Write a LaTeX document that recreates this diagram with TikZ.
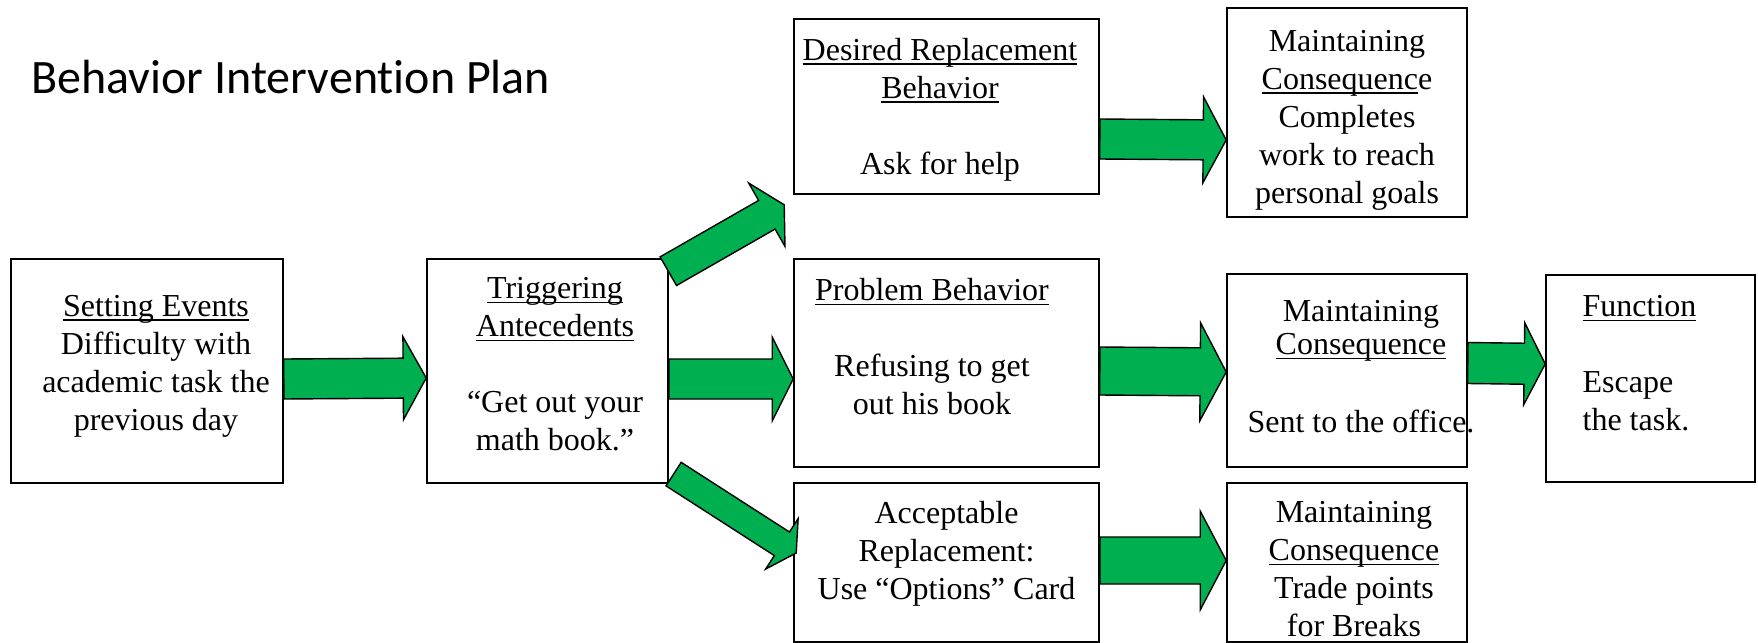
\documentclass[tikz,border=0pt]{standalone}
\usepackage{fontspec}
\setmainfont{Liberation Serif}
\newfontfamily\titlefont[Ligatures=NoCommon]{Carlito}
\usetikzlibrary{calc}
\definecolor{arrowgreen}{RGB}{0,176,80}

% underline close to the baseline
\newcommand\ulbase[1]{\setbox0\hbox{#1}\rlap{\rule[-2.2pt]{\wd0}{0.6pt}}\box0}

% block arrow: tail, tip, half shaft, half head, head length
\newcommand\blockarrow[5]{%
  \coordinate (t) at (#1);
  \coordinate (p) at (#2);
  \coordinate (hb) at ($(p)!#5!(t)$);
  \draw[greenarrow] ($(t)!#3!90:(p)$) -- ($(hb)!#3!-90:(t)$) -- ($(hb)!#4!-90:(t)$)
    -- (p) -- ($(hb)!#4!90:(t)$) -- ($(hb)!#3!90:(t)$) -- ($(t)!#3!-90:(p)$) -- cycle;
}

\begin{document}
\begin{tikzpicture}[x=0.5pt, y=-0.5pt,
    box/.style = {draw, line width=0.8pt, fill=white, inner sep=0pt},
    txt/.style = {font=\fontsize{16}{19}\selectfont, align=center, inner sep=0pt},
    greenarrow/.style = {draw, fill=arrowgreen, line width=0.7pt, line join=miter}
    ]
    \useasboundingbox (0,0) rectangle (1758,643);

    \node[anchor=base west, inner sep=0pt, font=\titlefont\fontsize{24}{28}\selectfont]
      (title) at (31,93) {Behavior Intervention Plan};

    % boxes
    \node[box, minimum width=136pt, minimum height=112pt] (setting) at (147,371) {};
    \node[box, minimum width=120.5pt, minimum height=112pt] (trigger) at (547.5,371) {};
    \node[box, minimum width=152.5pt, minimum height=87.5pt] (desired) at (946.5,106.5) {};
    \node[box, minimum width=152.5pt, minimum height=104pt] (problem) at (946.5,363) {};
    \node[box, minimum width=152.5pt, minimum height=79.5pt] (accept) at (946.5,562.5) {};
    \node[box, minimum width=120pt, minimum height=104.5pt] (consdes) at (1347,112.5) {};
    \node[box, minimum width=120pt, minimum height=96.5pt] (consprob) at (1347,370.5) {};
    \node[box, minimum width=120pt, minimum height=79.5pt] (consacc) at (1347,562.5) {};
    \node[box, minimum width=104.5pt, minimum height=103.5pt] (function) at (1650.5,378.5) {};

    % texts
    \node[txt] (setting-txt) at ($(setting)+(9,-5)$)
      {\ulbase{Setting Events}\\Difficulty with\\academic task the\\previous day};
    \node[txt] (trigger-txt) at ($(trigger)+(7.5,-6.5)$)
      {\ulbase{Triggering}\\\ulbase{Antecedents}\\[19pt]``Get out your\\math book.''};
    \node[txt] (desired-txt) at ($(desired)+(-6.5,3)$)
      {\ulbase{Desired Replacement}\\\ulbase{Behavior}\\[19pt]Ask for help};
    \node[txt] (problem-txt) at ($(problem)+(-14.5,-16.5)$)
      {\ulbase{Problem Behavior}\\[19pt]Refusing to get\\out his book};
    \node[txt] (accept-txt) at ($(accept)+(0,-8.5)$)
      {Acceptable\\Replacement:\\Use ``Options'' Card};
    \node[txt] (consdes-txt) at ($(consdes)+(0,7.5)$)
      {Maintaining\\\ulbase{Consequenc}e\\Completes\\work to reach\\personal goals};
    \node[txt] (consprob-txt) at ($(consprob)+(14,-3.5)$)
      {Maintaining\\[-2.5pt]\ulbase{Consequence}\\[20pt]Sent to the office.};
    \node[txt] (consacc-txt) at ($(consacc)+(7,6.5)$)
      {Maintaining\\\ulbase{Consequence}\\Trade points\\for Breaks};
    \node[txt, align=left, anchor=west] (function-txt) at ($(function.west)+(37,-15.5)$)
      {\ulbase{Function}\\[19pt]Escape\\the task.};

    % arrows
    \blockarrow{$(setting.east)+(0,8)$}{$(trigger.west)+(0,7)$}{10pt}{20.75pt}{11.5pt}
    \blockarrow{$(trigger.east)+(0,8)$}{$(problem.west)+(0,16)$}{10pt}{21pt}{10.5pt}
    \blockarrow{$(problem.east)+(0,8)$}{$(consprob.west)+(0,1.5)$}{12pt}{24.5pt}{13pt}
    \blockarrow{$(consprob.east)+(0,-7.5)$}{$(function.west)+(0,-14.5)$}{10.25pt}{20.5pt}{10.5pt}
    \blockarrow{$(desired.east)+(0,32.5)$}{$(consdes.west)+(0,27.5)$}{10pt}{21.5pt}{11.5pt}
    \blockarrow{$(accept.east)+(0,-2)$}{$(consacc.west)+(0,-2)$}{11.75pt}{24.75pt}{13pt}
    \blockarrow{$(trigger.north east)+(-0.5,13)$}{$(desired.south west)+(-9,10)$}{8.25pt}{18.25pt}{10pt}
    \blockarrow{$(trigger.south east)+(4.8,-9.7)$}{$(accept.west)+(3,-9.5)$}{7pt}{15pt}{8.5pt}
\end{tikzpicture}
\end{document}
